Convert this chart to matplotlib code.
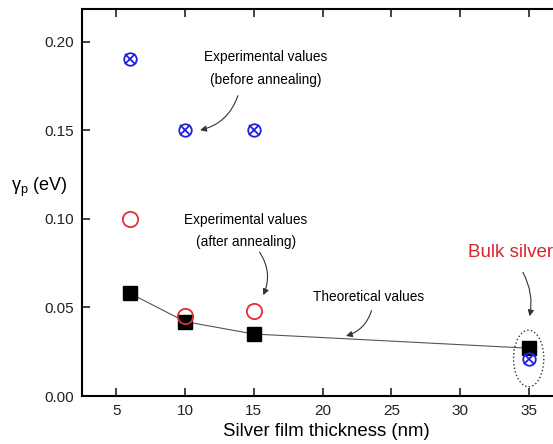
import matplotlib
matplotlib.use('Agg')
import matplotlib.pyplot as plt
from matplotlib.patches import Ellipse

plt.rcParams['font.family'] = ['Liberation Sans', 'DejaVu Sans']

# film thickness (nm) and damping gamma_p (eV)
x_before = [6, 10, 15, 35]
y_before = [0.190, 0.150, 0.150, 0.021]   # experimental, before annealing
x_after = [6, 10, 15]
y_after = [0.100, 0.045, 0.048]           # experimental, after annealing
x_theo = [6, 10, 15, 35]
y_theo = [0.058, 0.042, 0.035, 0.027]     # theoretical

fig = plt.figure(figsize=(5.53, 4.44), dpi=100)
ax = fig.add_axes([0.148, 0.108, 0.8834, 0.872])

ax.plot(x_theo, y_theo, '-', color='#555555', lw=0.8, zorder=1)
ax.plot(x_theo, y_theo, 's', color='black', ms=10, zorder=2)
ax.plot(x_after, y_after, 'o', mfc='none', mec='#e0303a', mew=1.3, ms=11, zorder=3)
ax.plot(x_before, y_before, 'o', mfc='none', mec='#2020e0', mew=1.3, ms=9, zorder=4)
ax.plot(x_before, y_before, 'x', color='#2020e0', mew=1.3, ms=7, zorder=4)

ax.add_patch(Ellipse((34.97, 0.0212), 2.2, 0.032, fill=False, ls=':', lw=1.0,
                     color='#333333', zorder=5))

ax.set_xlim(2.5, 38)
ax.set_ylim(0, 0.2185)
ax.set_xticks([5, 10, 15, 20, 25, 30, 35])
ax.set_yticks([0.00, 0.05, 0.10, 0.15, 0.20])
ax.set_yticklabels(['0.00', '0.05', '0.10', '0.15', '0.20'])
ax.tick_params(direction='in', length=6, width=1.2, labelsize=11, top=True,
               colors='#222222', pad=6)
for s in ax.spines.values():
    s.set_linewidth(1.5)

ax.set_xlabel('Silver film thickness (nm)', fontsize=13.4, labelpad=3)
fig.text(0.071, 0.577, 'γ$_\\mathregular{p}$ (eV)', fontsize=13, ha='center', va='center')

arr = dict(arrowstyle='-|>', color='#333333', lw=0.8, mutation_scale=9)

ax.text(15.85, 0.1915, 'Experimental values', fontsize=9.8, ha='center', va='center')
ax.text(15.85, 0.1785, '(before annealing)', fontsize=9.8, ha='center', va='center')
ax.annotate('', xy=(10.9, 0.1497), xytext=(13.9, 0.171),
            arrowprops=dict(arr, connectionstyle='arc3,rad=-0.3'))

ax.text(14.4, 0.0994, 'Experimental values', fontsize=9.8, ha='center', va='center')
ax.text(14.4, 0.087, '(after annealing)', fontsize=9.8, ha='center', va='center')
ax.annotate('', xy=(15.6, 0.0555), xytext=(15.3, 0.0825),
            arrowprops=dict(arr, connectionstyle='arc3,rad=-0.3'))

ax.text(23.3, 0.0559, 'Theoretical values', fontsize=9.8, ha='center', va='center')
ax.annotate('', xy=(21.5, 0.0335), xytext=(23.6, 0.0497),
            arrowprops=dict(arr, connectionstyle='arc3,rad=-0.3'))

ax.text(30.55, 0.0808, 'Bulk silver', fontsize=13.5, color='#d8242c', ha='left', va='center')
ax.annotate('', xy=(35.0, 0.0435), xytext=(34.45, 0.0712),
            arrowprops=dict(arr, connectionstyle='arc3,rad=-0.2'))

fig.savefig('out.png', dpi=100)
